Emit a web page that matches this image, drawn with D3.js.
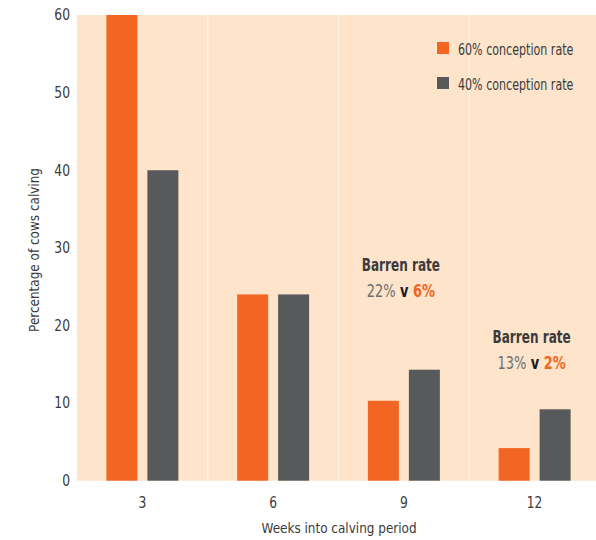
<!DOCTYPE html>
<html>
<head>
<meta charset="utf-8">
<script src="https://cdn.jsdelivr.net/npm/d3@7"></script>
<style>
  body { margin: 0; background: #ffffff; }
  svg { display: block; }
  text { font-family: "DejaVu Sans", sans-serif; fill: #3a3a3c; }
</style>
</head>
<body>
<svg id="chart" width="596" height="540"></svg>
<script>
// Weeks into calving period
const weeks = ["3", "6", "9", "12"];
// Percentage of cows calving in each 3-week block
const series = ["60% conception rate", "40% conception rate"];
const rate60 = [60, 24, 10.3, 4.2];
const rate40 = [40, 24, 14.3, 9.2];
const yTicks = [0, 10, 20, 30, 40, 50, 60];
const colors = ["#f26522", "#58595b"];

// Barren-rate notes: week, 40% value, 60% value
const barrenWeeks = ["9", "12"];
const barren40 = ["22%", "13%"];
const barren60 = ["6%", "2%"];

const FONT = "'DejaVu Sans', sans-serif";
const svg = d3.select("#chart");
const plotLeft = 77, plotRight = 600, plotTop = 15, plotBottom = 480.7;

// Squeeze text horizontally around its own x anchor to mimic a condensed typeface
function condense(sel, k) {
  sel.each(function () {
    const x0 = +(this.getAttribute("x") || 0);
    d3.select(this).attr("transform", `translate(${x0 * (1 - k)},0) scale(${k},1)`);
  });
}

const x = d3.scaleBand().domain(weeks).range([plotLeft, plotRight]).padding(0);
const xs = d3.scaleBand().domain(series).range([0, x.bandwidth()])
  .paddingInner(10 / 41).paddingOuter(0.717);
const y = d3.scaleLinear().domain([0, 60]).range([plotBottom, plotTop]);

// Panel background
svg.append("rect")
  .attr("x", plotLeft).attr("y", plotTop)
  .attr("width", plotRight - plotLeft).attr("height", plotBottom - plotTop)
  .attr("fill", "#fde4ca");

// Light separators between week groups
svg.append("g").selectAll("line")
  .data(weeks.slice(1))
  .join("line")
  .attr("x1", d => x(d)).attr("x2", d => x(d))
  .attr("y1", plotTop).attr("y2", plotBottom)
  .attr("stroke", "#fff1e4").attr("stroke-width", 1.5);

// Bars
const rows = weeks.map((w, i) => ({ week: w, values: [rate60[i], rate40[i]] }));
svg.append("g").selectAll("g")
  .data(rows)
  .join("g")
  .attr("transform", d => `translate(${x(d.week)},0)`)
  .selectAll("rect")
  .data(d => d.values.map((v, j) => ({ key: series[j], value: v, j })))
  .join("rect")
  .attr("x", d => xs(d.key))
  .attr("width", xs.bandwidth())
  .attr("y", d => y(d.value))
  .attr("height", d => y(0) - y(d.value))
  .attr("fill", d => colors[d.j]);

// Y axis
const yAxis = d3.axisLeft(y).tickValues(yTicks).tickSize(0).tickPadding(7);
const gy = svg.append("g").attr("transform", `translate(${plotLeft},0)`).call(yAxis);
gy.select(".domain").remove();
gy.selectAll("text")
  .style("font-family", FONT)
  .style("font-size", "15px").attr("fill", "#3a3a3c")
  .call(condense, 0.82);

// X axis
const xAxis = d3.axisBottom(x).tickSize(0).tickPadding(17);
const gx = svg.append("g").attr("transform", `translate(0,${plotBottom})`).call(xAxis);
gx.select(".domain").remove();
gx.selectAll("text")
  .style("font-family", FONT)
  .style("font-size", "15px").attr("fill", "#3a3a3c")
  .call(condense, 0.82);

// Axis titles
svg.append("g").attr("transform", "translate(339,533)")
  .append("text")
  .attr("text-anchor", "middle").style("font-size", "14px")
  .text("Weeks into calving period")
  .call(condense, 0.86);

svg.append("g").attr("transform", "translate(38.5,250) rotate(-90)")
  .append("text")
  .attr("text-anchor", "middle").style("font-size", "14px")
  .text("Percentage of cows calving")
  .call(condense, 0.86);

// Legend
const legend = svg.append("g").selectAll("g")
  .data(series)
  .join("g")
  .attr("transform", (d, i) => `translate(437,${42 + i * 35})`);
legend.append("rect")
  .attr("width", 12).attr("height", 12)
  .attr("fill", (d, i) => colors[i]);
legend.append("g").attr("transform", "translate(21,13)")
  .append("text")
  .style("font-size", "15px")
  .text(d => d)
  .call(condense, 0.74);

// Barren-rate notes
const noteY = [271, 343.3];
const notes = svg.append("g").selectAll("g")
  .data(barrenWeeks)
  .join("g")
  .attr("transform", (d, i) => `translate(${x(d) + x.bandwidth() / 2 - 3},${noteY[i]})`);
notes.append("text")
  .attr("text-anchor", "middle")
  .style("font-size", "18px").style("font-weight", "bold").attr("fill", "#1a1a1a")
  .text("Barren rate")
  .call(condense, 0.67);
const line2 = notes.append("g").attr("transform", "translate(0,25.5)")
  .append("text")
  .attr("text-anchor", "middle")
  .style("font-size", "18px");
line2.append("tspan").attr("fill", "#6d6e71").text((d, i) => barren40[i]);
line2.append("tspan").attr("fill", "#1a1a1a").style("font-weight", "bold").text(" v ");
line2.append("tspan").attr("fill", "#f26522").style("font-weight", "600").text((d, i) => barren60[i]);
line2.call(condense, 0.72);
</script>
</body>
</html>
